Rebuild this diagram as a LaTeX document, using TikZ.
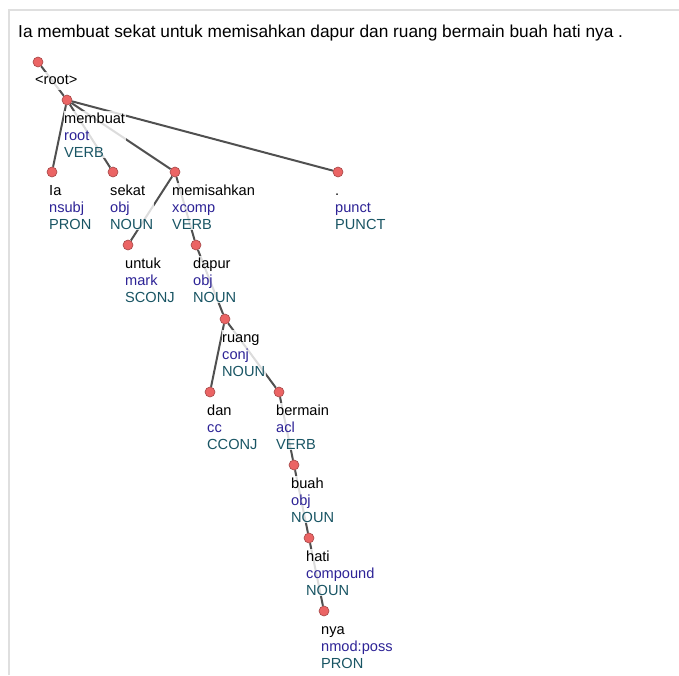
\documentclass[tikz,border=0pt]{standalone}
\usepackage{fontspec}
\setmainfont{Liberation Sans}
\usetikzlibrary{backgrounds}
\definecolor{reltext}{RGB}{45,35,150}
\definecolor{postext}{RGB}{25,85,100}
\definecolor{dotred}{RGB}{235,100,100}
\definecolor{edgegray}{RGB}{80,80,80}

\begin{document}
\begin{tikzpicture}[x=1pt,y=-1pt,
  dot/.style={circle, fill=dotred, draw=dotred!70!black, line width=0.6pt, minimum size=10pt, inner sep=0pt},
  lbl/.style={anchor=north west, inner sep=0.5pt, align=left, fill=white, fill opacity=0.8, text opacity=1, font=\fontsize{14.6}{17}\selectfont},
  edge/.style={draw=edgegray, line width=2pt}]
\useasboundingbox (0,0) rectangle (679,675);

% Sentence
\node[anchor=base west, inner sep=0pt, font=\fontsize{17.3}{20}\selectfont] (sentence) at (18,37)
  {Ia membuat sekat untuk memisahkan dapur dan ruang bermain buah hati nya .};

% Root
\node[dot] (root) at (38,62) {};
\node[lbl] (root-l) at (34.5,72) {\strut<root>};

% Tokens: name/x/y/word/deprel/upos
\foreach \tok/\px/\py/\word/\rel/\upos in {
    membuat/67/100/membuat/root/VERB,
    la/52/172/Ia/nsubj/PRON,
    sekat/113/172/sekat/obj/NOUN,
    memisahkan/175/172/memisahkan/xcomp/VERB,
    punct/338/172/./punct/PUNCT,
    untuk/128/245/untuk/mark/SCONJ,
    dapur/196/245/dapur/obj/NOUN,
    ruang/225/319/ruang/conj/NOUN,
    dan/210/392/dan/cc/CCONJ,
    bermain/279/392/bermain/acl/VERB,
    buah/294/465/buah/obj/NOUN,
    hati/309/538/hati/compound/NOUN,
    nya/324/611/nya/nmod:poss/PRON} {
  \node[dot] (\tok) at (\px,\py) {};
  \node[lbl] (\tok-l) at (\px-3.5,\py+10.5)
    {\strut\word\\\textcolor{reltext}{\rel}\\\textcolor{postext}{\upos}};
}

\begin{pgfonlayer}{background}
% Frame
\draw[gray!25, line width=2pt] (9,675) -- (9,10) -- (679,10);
% Dependencies
\foreach \a/\b in {root/membuat, membuat/la, membuat/sekat, membuat/memisahkan,
    membuat/punct, memisahkan/untuk, memisahkan/dapur, dapur/ruang,
    ruang/dan, ruang/bermain, bermain/buah, buah/hati, hati/nya}
  \draw[edge] (\a) -- (\b);
\end{pgfonlayer}
\end{tikzpicture}
\end{document}
